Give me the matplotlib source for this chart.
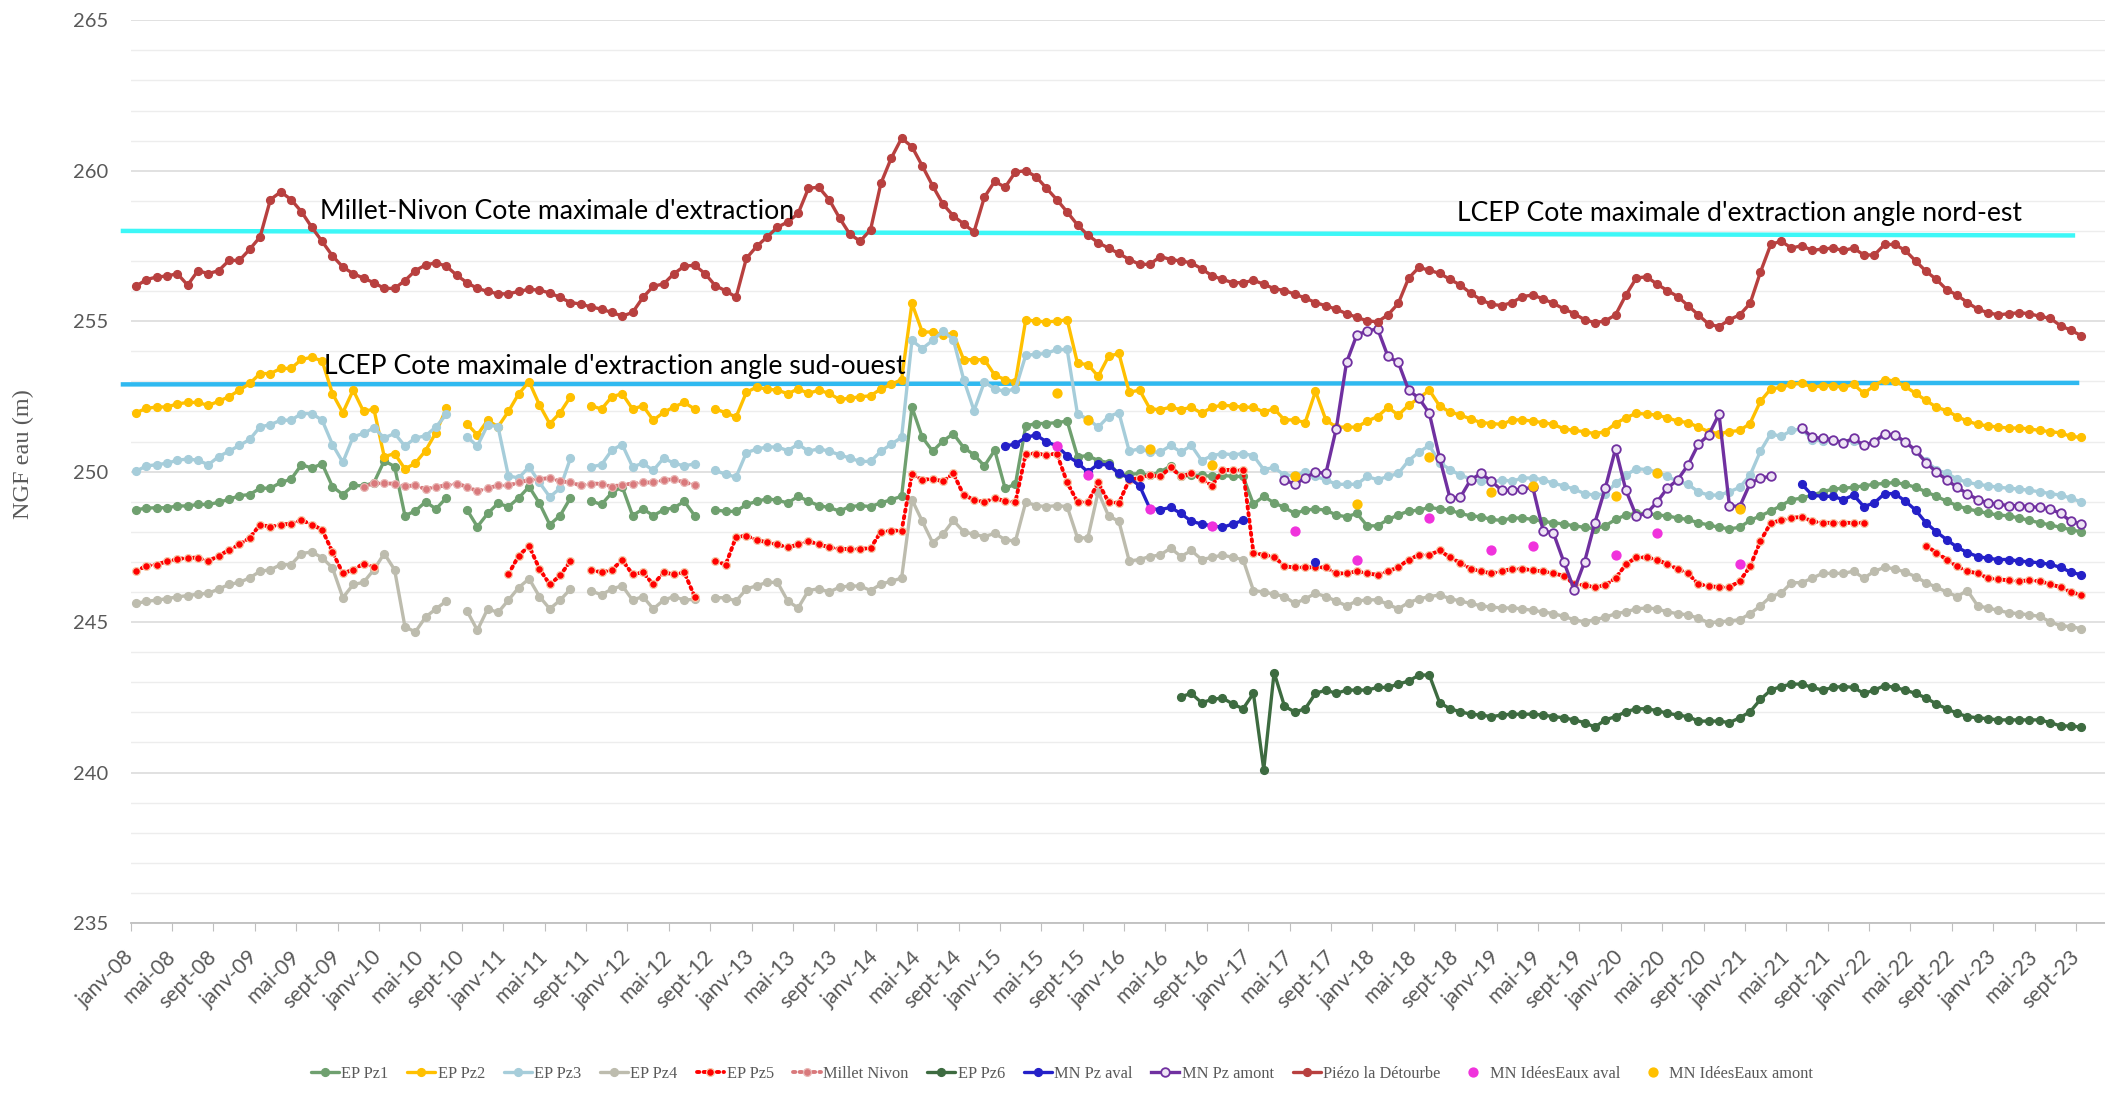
import numpy as np
import matplotlib
matplotlib.use("Agg")
import matplotlib.pyplot as plt
from matplotlib.lines import Line2D

# ---------------------------------------------------------------- data
START_YEAR = 2008
N_MONTHS = 189  # janv-08 .. sept-23

tick_labels = [
    "janv-08", "mai-08", "sept-08", "janv-09", "mai-09", "sept-09",
    "janv-10", "mai-10", "sept-10", "janv-11", "mai-11", "sept-11",
    "janv-12", "mai-12", "sept-12", "janv-13", "mai-13", "sept-13",
    "janv-14", "mai-14", "sept-14", "janv-15", "mai-15", "sept-15",
    "janv-16", "mai-16", "sept-16", "janv-17", "mai-17", "sept-17",
    "janv-18", "mai-18", "sept-18", "janv-19", "mai-19", "sept-19",
    "janv-20", "mai-20", "sept-20", "janv-21", "mai-21", "sept-21",
    "janv-22", "mai-22", "sept-22", "janv-23", "mai-23", "sept-23",
]

# full monthly series, one row per year (None = no measure)
piezo_detourbe = [
    [256.16, 256.38, 256.47, 256.5, 256.58, 256.2, 256.68, 256.58, 256.68, 257.02, 257.02, 257.39],
    [257.8, 259.04, 259.3, 259.04, 258.64, 258.12, 257.65, 257.17, 256.8, 256.58, 256.43, 256.28],
    [256.09, 256.09, 256.35, 256.68, 256.87, 256.94, 256.83, 256.53, 256.28, 256.09, 255.99, 255.91],
    [255.91, 255.99, 256.06, 256.03, 255.94, 255.79, 255.62, 255.57, 255.47, 255.4, 255.29, 255.17],
    [255.29, 255.79, 256.16, 256.24, 256.58, 256.83, 256.86, 256.58, 256.18, 256.01, 255.8, 257.09],
    [257.49, 257.8, 258.12, 258.3, 258.58, 259.42, 259.45, 259.04, 258.43, 257.89, 257.66, 258.04],
    [259.58, 260.42, 261.08, 260.8, 260.16, 259.5, 258.89, 258.5, 258.23, 257.97, 259.12, 259.65],
    [259.45, 259.96, 260.0, 259.8, 259.42, 259.04, 258.63, 258.2, 257.86, 257.61, 257.43, 257.25],
    [257.05, 256.89, 256.89, 257.15, 257.05, 257.0, 256.94, 256.74, 256.51, 256.39, 256.28, 256.28],
    [256.36, 256.23, 256.08, 256.02, 255.9, 255.77, 255.62, 255.51, 255.4, 255.25, 255.13, 255.01],
    [254.98, 255.21, 255.59, 256.43, 256.79, 256.69, 256.59, 256.39, 256.2, 255.93, 255.71, 255.56],
    [255.52, 255.62, 255.82, 255.87, 255.74, 255.59, 255.41, 255.25, 255.05, 254.95, 255.01, 255.21],
    [255.87, 256.43, 256.48, 256.23, 256.02, 255.82, 255.52, 255.21, 254.9, 254.82, 255.05, 255.21],
    [255.59, 256.63, 257.55, 257.66, 257.43, 257.51, 257.35, 257.4, 257.43, 257.35, 257.43, 257.2],
    [257.2, 257.55, 257.55, 257.35, 257.0, 256.66, 256.39, 256.05, 255.87, 255.62, 255.4, 255.28],
    [255.21, 255.25, 255.28, 255.25, 255.16, 255.1, 254.85, 254.7, 254.52],
]

ep_pz2 = [
    [251.96, 252.1, 252.15, 252.15, 252.25, 252.3, 252.3, 252.2, 252.34, 252.49, 252.71, 252.93],
    [253.26, 253.26, 253.43, 253.43, 253.73, 253.8, 253.68, 252.59, 251.96, 252.71, 252.0, 252.08],
    [250.5, 250.6, 250.09, 250.28, 250.7, 251.3, 252.1, None, 251.59, 251.22, 251.71, 251.49],
    [252.0, 252.59, 252.99, 252.22, 251.59, 251.96, 252.49, None, 252.19, 252.08, 252.49, 252.59],
    [252.08, 252.19, 251.71, 251.97, 252.15, 252.3, 252.08, None, 252.08, 251.96, 251.81, 252.64],
    [252.81, 252.74, 252.71, 252.59, 252.75, 252.6, 252.71, 252.6, 252.4, 252.44, 252.49, 252.52],
    [252.75, 252.9, 253.06, 255.59, 254.64, 254.64, 254.55, 254.59, 253.72, 253.72, 253.72, 253.21],
    [253.06, 252.98, 255.05, 255.0, 254.98, 255.0, 255.05, 253.6, 253.56, 253.17, 253.83, 253.93],
    [252.64, 252.71, 252.09, 252.06, 252.14, 252.06, 252.14, 251.94, 252.14, 252.21, 252.18, 252.14],
    [252.14, 251.98, 252.09, 251.72, 251.72, 251.63, 252.67, 251.72, 251.48, 251.48, 251.48, 251.68],
    [251.83, 252.14, 251.88, 252.21, 252.44, 252.71, 252.18, 251.98, 251.88, 251.75, 251.63, 251.6],
    [251.57, 251.72, 251.72, 251.68, 251.63, 251.57, 251.42, 251.37, 251.33, 251.26, 251.33, 251.6],
    [251.79, 251.94, 251.91, 251.88, 251.79, 251.68, 251.63, 251.48, 251.33, 251.26, 251.33, 251.37],
    [251.6, 252.34, 252.75, 252.8, 252.9, 252.95, 252.8, 252.86, 252.86, 252.8, 252.9, 252.6],
    [252.86, 253.06, 253.01, 252.83, 252.6, 252.37, 252.14, 252.03, 251.83, 251.68, 251.57, 251.52],
    [251.48, 251.45, 251.45, 251.42, 251.37, 251.33, 251.29, 251.17, 251.14],
]

ep_pz3 = [
    [250.01, 250.19, 250.23, 250.28, 250.38, 250.42, 250.38, 250.23, 250.5, 250.68, 250.87, 251.07],
    [251.49, 251.56, 251.71, 251.71, 251.93, 251.93, 251.71, 250.9, 250.31, 251.16, 251.27, 251.46],
    [251.12, 251.27, 250.85, 251.12, 251.19, 251.49, 251.9, None, 251.16, 250.85, 251.56, 251.49],
    [249.86, 249.79, 250.16, 249.64, 249.16, 249.45, 250.45, None, 250.16, 250.23, 250.72, 250.9],
    [250.16, 250.28, 250.04, 250.45, 250.28, 250.19, 250.26, None, 250.04, 249.91, 249.82, 250.63],
    [250.75, 250.82, 250.82, 250.7, 250.91, 250.68, 250.76, 250.68, 250.56, 250.45, 250.34, 250.34],
    [250.68, 250.91, 251.14, 254.36, 254.09, 254.36, 254.67, 254.39, 253.06, 252.03, 252.98, 252.75],
    [252.67, 252.75, 253.87, 253.9, 253.93, 254.06, 254.06, 251.91, 251.75, 251.48, 251.83, 251.96],
    [250.68, 250.76, 250.65, 250.65, 250.87, 250.65, 250.87, 250.37, 250.53, 250.6, 250.56, 250.6],
    [250.53, 250.07, 250.14, 249.88, 249.88, 249.99, 249.84, 249.73, 249.58, 249.58, 249.58, 249.84],
    [249.73, 249.84, 249.94, 250.37, 250.65, 250.87, 250.3, 250.07, 249.88, 249.76, 249.68, 249.64],
    [249.73, 249.68, 249.79, 249.79, 249.73, 249.61, 249.53, 249.42, 249.27, 249.22, 249.27, 249.61],
    [249.88, 250.1, 250.07, 249.99, 249.84, 249.68, 249.58, 249.33, 249.22, 249.22, 249.33, 249.48],
    [249.88, 250.68, 251.26, 251.17, 251.37, 251.42, 251.06, 251.02, 251.02, 250.99, 251.02, 250.87],
    [250.99, 251.22, 251.17, 250.99, 250.68, 250.34, 250.07, 249.94, 249.76, 249.64, 249.58, 249.53],
    [249.48, 249.45, 249.42, 249.38, 249.33, 249.27, 249.22, 249.12, 248.99],
]

ep_pz1 = [
    [248.73, 248.79, 248.8, 248.8, 248.86, 248.86, 248.91, 248.91, 248.98, 249.08, 249.2, 249.24],
    [249.45, 249.45, 249.64, 249.75, 250.23, 250.12, 250.26, 249.5, 249.24, 249.54, 249.53, 249.63],
    [250.36, 250.17, 248.54, 248.69, 249.0, 248.76, 249.13, None, 248.73, 248.17, 248.61, 248.95],
    [248.83, 249.13, 249.5, 248.95, 248.24, 248.54, 249.13, None, 249.02, 248.91, 249.3, 249.5],
    [248.54, 248.76, 248.54, 248.73, 248.8, 249.01, 248.54, None, 248.73, 248.68, 248.68, 248.91],
    [249.01, 249.1, 249.05, 248.96, 249.18, 249.02, 248.87, 248.81, 248.69, 248.84, 248.87, 248.84],
    [248.96, 249.07, 249.18, 252.14, 251.14, 250.68, 251.02, 251.26, 250.8, 250.56, 250.19, 250.71],
    [249.45, 249.58, 251.52, 251.6, 251.6, 251.63, 251.68, 250.5, 250.53, 250.37, 250.3, 249.91],
    [249.91, 249.94, 249.88, 249.99, 250.19, 249.84, 249.88, 249.88, 249.84, 249.88, 249.84, 249.84],
    [248.92, 249.18, 248.96, 248.81, 248.61, 248.72, 248.76, 248.72, 248.56, 248.5, 248.61, 248.2],
    [248.2, 248.41, 248.56, 248.69, 248.72, 248.81, 248.76, 248.72, 248.61, 248.53, 248.5, 248.41],
    [248.38, 248.46, 248.46, 248.41, 248.35, 248.3, 248.26, 248.2, 248.15, 248.1, 248.2, 248.41],
    [248.56, 248.61, 248.61, 248.56, 248.53, 248.46, 248.41, 248.3, 248.23, 248.15, 248.1, 248.15],
    [248.38, 248.53, 248.69, 248.87, 249.07, 249.12, 249.22, 249.33, 249.42, 249.45, 249.48, 249.53],
    [249.58, 249.61, 249.64, 249.58, 249.48, 249.33, 249.18, 249.02, 248.87, 248.76, 248.69, 248.61],
    [248.56, 248.53, 248.46, 248.38, 248.3, 248.23, 248.15, 248.07, 248.0],
]

ep_pz4 = [
    [245.62, 245.69, 245.73, 245.78, 245.84, 245.88, 245.93, 245.96, 246.1, 246.25, 246.32, 246.47],
    [246.69, 246.74, 246.91, 246.91, 247.28, 247.33, 247.14, 246.8, 245.81, 246.25, 246.32, 246.74],
    [247.28, 246.74, 244.85, 244.67, 245.17, 245.44, 245.7, None, 245.37, 244.73, 245.44, 245.32],
    [245.73, 246.15, 246.44, 245.85, 245.44, 245.73, 246.1, None, 246.03, 245.91, 246.1, 246.21],
    [245.73, 245.85, 245.44, 245.73, 245.85, 245.73, 245.76, None, 245.81, 245.81, 245.7, 246.1],
    [246.21, 246.32, 246.32, 245.7, 245.47, 246.05, 246.11, 246.0, 246.16, 246.2, 246.2, 246.05],
    [246.26, 246.36, 246.46, 249.07, 248.35, 247.64, 247.92, 248.38, 248.0, 247.92, 247.84, 247.95],
    [247.74, 247.69, 248.99, 248.87, 248.84, 248.87, 248.84, 247.8, 247.8, 249.33, 248.53, 248.35],
    [247.03, 247.08, 247.18, 247.23, 247.46, 247.18, 247.38, 247.08, 247.15, 247.23, 247.15, 247.08],
    [246.05, 246.0, 245.93, 245.85, 245.62, 245.77, 245.96, 245.85, 245.7, 245.54, 245.7, 245.74],
    [245.74, 245.59, 245.44, 245.65, 245.77, 245.85, 245.9, 245.78, 245.7, 245.62, 245.54, 245.5],
    [245.47, 245.47, 245.44, 245.39, 245.34, 245.28, 245.19, 245.08, 245.01, 245.08, 245.16, 245.28],
    [245.34, 245.44, 245.47, 245.44, 245.34, 245.28, 245.24, 245.13, 244.98, 245.01, 245.04, 245.08],
    [245.28, 245.54, 245.85, 245.96, 246.31, 246.31, 246.46, 246.62, 246.62, 246.62, 246.69, 246.46],
    [246.69, 246.82, 246.77, 246.66, 246.51, 246.31, 246.16, 246.0, 245.85, 246.05, 245.54, 245.47],
    [245.39, 245.31, 245.28, 245.24, 245.19, 245.01, 244.88, 244.85, 244.78],
]

ep_pz5 = [
    [246.69, 246.87, 246.91, 247.02, 247.09, 247.14, 247.14, 247.02, 247.21, 247.39, 247.58, 247.8],
    [248.24, 248.17, 248.24, 248.27, 248.39, 248.24, 248.07, 247.33, 246.62, 246.74, 246.94, 246.84],
    [None] * 12,
    [246.59, 247.21, 247.53, 246.77, 246.25, 246.55, 247.03, None, 246.74, 246.65, 246.74, 247.06],
    [246.59, 246.65, 246.25, 246.65, 246.59, 246.65, 245.85, None, 247.03, 246.91, 247.83, 247.87],
    [247.73, 247.65, 247.58, 247.48, 247.58, 247.69, 247.58, 247.49, 247.43, 247.43, 247.43, 247.46],
    [248.0, 248.04, 248.04, 249.91, 249.73, 249.76, 249.68, 249.94, 249.22, 249.07, 248.99, 249.12],
    [249.02, 248.99, 250.6, 250.6, 250.56, 250.6, 249.64, 248.99, 248.99, 249.64, 248.99, 248.96],
    [249.73, 249.79, 249.88, 249.84, 250.14, 249.84, 249.94, 249.76, 249.53, 250.04, 250.07, 250.04],
    [247.31, 247.23, 247.18, 246.85, 246.82, 246.82, 246.82, 246.82, 246.62, 246.62, 246.69, 246.62],
    [246.57, 246.69, 246.82, 247.08, 247.23, 247.23, 247.38, 247.15, 246.97, 246.77, 246.69, 246.62],
    [246.69, 246.77, 246.77, 246.72, 246.69, 246.62, 246.54, 246.26, 246.23, 246.16, 246.23, 246.46],
    [246.92, 247.15, 247.15, 247.08, 246.92, 246.77, 246.62, 246.26, 246.2, 246.16, 246.16, 246.36],
    [246.85, 247.69, 248.3, 248.38, 248.46, 248.5, 248.35, 248.3, 248.3, 248.3, 248.3, 248.3],
    [None, None, None, None, None, 247.54, 247.31, 247.08, 246.85, 246.69, 246.62, 246.46],
    [246.42, 246.39, 246.36, 246.39, 246.36, 246.26, 246.16, 246.0, 245.9],
]

# partial series: ((year, month of first value), values)
millet_nivon = [((2009, 11), [249.5, 249.61, 249.61, 249.6, 249.52, 249.54, 249.42, 249.5, 249.54,
                              249.6, 249.5, 249.35, 249.45, 249.54, 249.54, 249.64, 249.72, 249.75,
                              249.79, 249.68, 249.64, 249.54, 249.6, 249.6, 249.5, 249.57, 249.6,
                              249.64, 249.64, 249.72, 249.75, 249.64, 249.57])]

ep_pz6 = [((2016, 6), [242.52, 242.63, 242.32, 242.43, 242.48, 242.28, 242.12,
                       242.63, 240.1, 243.32, 242.21, 242.01, 242.12, 242.63, 242.74, 242.63, 242.74,
                       242.74, 242.74, 242.83, 242.83, 242.94, 243.04, 243.24, 243.24, 242.32, 242.12,
                       242.02, 241.94, 241.91, 241.86, 241.91, 241.94, 241.94, 241.94, 241.91, 241.86,
                       241.82, 241.75, 241.66, 241.51, 241.75, 241.86, 242.02, 242.12, 242.12, 242.06,
                       241.97, 241.91, 241.86, 241.71, 241.71, 241.71, 241.66, 241.82, 242.02, 242.43,
                       242.74, 242.86, 242.94, 242.94, 242.83, 242.74, 242.83, 242.86, 242.83, 242.63,
                       242.74, 242.89, 242.83, 242.74, 242.63, 242.48, 242.28, 242.12, 241.97, 241.86,
                       241.82, 241.79, 241.75, 241.75, 241.75, 241.75, 241.75, 241.66, 241.55, 241.55,
                       241.51])]

mn_pz_aval = [((2015, 1), [250.86, 250.91, 251.14, 251.22, 250.99, 250.86, 250.53, 250.3, 249.99,
                           250.25, 250.22, 249.94, 249.79, 249.53, 248.77, 248.74, 248.81, 248.61,
                           248.35, 248.26, 248.2, 248.15, 248.26, 248.38]),
              ((2017, 7), [247.0]),
              ((2021, 6), [249.58, 249.22, 249.18, 249.18, 249.07, 249.22, 248.84, 248.96, 249.27,
                           249.27, 249.02, 248.72, 248.3, 248.0, 247.74, 247.49, 247.31, 247.18,
                           247.12, 247.08, 247.08, 247.03, 247.0, 246.97, 246.92, 246.82, 246.66,
                           246.57])]

mn_pz_amont = [((2017, 4), [249.73, 249.58, 249.79, 249.99, 249.94, 251.42, 253.63, 254.55, 254.67,
                            254.75, 253.83, 253.63, 252.71, 252.44, 251.94, 250.45, 249.12, 249.15,
                            249.73, 249.94, 249.68, 249.38, 249.38, 249.42, 249.48, 248.04, 247.95,
                            247.0, 246.08, 247.0, 248.3, 249.45, 250.76, 249.38, 248.53, 248.61,
                            248.99, 249.45, 249.73, 250.22, 250.91, 251.22, 251.91, 248.87, 248.84,
                            249.61, 249.79, 249.84]),
               ((2021, 6), [251.45, 251.14, 251.11, 251.06, 250.96, 251.11, 250.87, 250.99, 251.26,
                            251.22, 250.99, 250.71, 250.3, 249.99, 249.73, 249.48, 249.27, 249.07,
                            248.96, 248.92, 248.87, 248.87, 248.84, 248.81, 248.76, 248.61, 248.35,
                            248.26])]

# isolated campaign measurements (year, month)
idees_eaux_dates = [(2015, 6), (2015, 9), (2016, 3), (2016, 9), (2017, 5), (2017, 11),
                    (2018, 6), (2018, 12), (2019, 4), (2019, 12), (2020, 4), (2020, 12)]
mn_ideeseaux_aval = [250.86, 249.88, 248.77, 248.2, 248.04, 247.08,
                     248.46, 247.38, 247.54, 247.23, 247.95, 246.92]
mn_ideeseaux_amont = [252.6, 251.72, 250.76, 250.22, 249.84, 248.92,
                      250.5, 249.33, 249.53, 249.18, 249.94, 248.76]

# maximal extraction levels (value at start, value at end of the drawn segment)
cote_millet_nivon = [258.0, 257.85]
cote_lcep_sud_ouest = [252.9, 252.95]

# ---------------------------------------------------------------- helpers
def month_index(year, month):
    return (year - START_YEAR) * 12 + (month - 1)


def from_rows(rows):
    flat = [np.nan if v is None else v for row in rows for v in row]
    arr = np.full(N_MONTHS, np.nan)
    n = min(len(flat), N_MONTHS)
    arr[:n] = flat[:n]
    return arr


def from_segments(segments):
    arr = np.full(N_MONTHS, np.nan)
    for (y, m), vals in segments:
        i = month_index(y, m)
        arr[i:i + len(vals)] = vals[:N_MONTHS - i]
    return arr


x = np.arange(N_MONTHS)
dots_x = np.array([month_index(y, m) for y, m in idees_eaux_dates])

# ---------------------------------------------------------------- figure
plt.rcParams['font.family'] = ['Lato', 'DejaVu Sans']
TXT = '#595959'

fig = plt.figure(figsize=(21.05, 10.97), dpi=100)
ax = fig.add_axes([0.0621, 0.1586, 0.9379, 0.8229])
ax.set_xlim(-0.5, 190.3)
ax.set_ylim(235, 265)

ax.set_yticks(np.arange(235, 266, 5))
ax.set_yticks(np.arange(235, 266, 1), minor=True)
ax.grid(axis='y', which='major', color='#D9D9D9', lw=1.1, zorder=0)
ax.grid(axis='y', which='minor', color='#EDEDED', lw=1.0, zorder=0)
ax.set_axisbelow(True)
for s in ('top', 'right', 'left'):
    ax.spines[s].set_visible(False)
ax.spines['bottom'].set_color('#BFBFBF')
ax.spines['bottom'].set_linewidth(1.3)

ax.tick_params(axis='y', which='both', length=0, pad=16, labelsize=14.5, labelcolor=TXT)
ax.set_xticks(np.arange(0, N_MONTHS, 4) - 0.5)
ax.set_xticks([], minor=True)
ax.set_xticklabels(tick_labels, rotation=45, ha='right', va='center',
                   rotation_mode='anchor', fontsize=15.2, color=TXT)
ax.tick_params(axis='x', which='major', length=6, color='#BFBFBF', pad=16)

ax.set_ylabel('NGF eau (m)', family=['Liberation Serif', 'DejaVu Serif'],
              fontsize=17.5, color=TXT)
ax.yaxis.set_label_coords(-0.049, 0.52)

# reference lines (maximal extraction levels)
ax.plot([-1.25, 187.2], cote_millet_nivon, color='#3DF7F7', lw=3.2, clip_on=False, zorder=1)
ax.plot([-1.25, 187.6], cote_lcep_sud_ouest, color='#2FB9F0', lw=3.2, clip_on=False, zorder=1)

ANN = dict(fontsize=19.2, color='black', va='baseline', ha='left', zorder=6)
ax.text(17.8, 258.39, "Millet-Nivon Cote maximale d'extraction", **ANN)
ax.text(18.2, 253.26, "LCEP Cote maximale d'extraction angle sud-ouest", **ANN)
ax.text(127.7, 258.32, "LCEP Cote maximale d'extraction angle nord-est", **ANN)

LW = 2.4
MS = 5.6
solid = dict(lw=LW, marker='o', ms=MS, solid_joinstyle='round', solid_capstyle='round')
dotted = dict(lw=2.8, ls=(0, (0.6, 1.1)), dash_capstyle='round', marker='o', ms=MS)

series = [
    ("EP Pz1", from_rows(ep_pz1), dict(color='#6FA06F', **solid)),
    ("EP Pz2", from_rows(ep_pz2), dict(color='#FFC000', **solid)),
    ("EP Pz3", from_rows(ep_pz3), dict(color='#A6CDDA', **solid)),
    ("EP Pz4", from_rows(ep_pz4), dict(color='#BDBCAE', **solid)),
    ("EP Pz5", from_rows(ep_pz5), dict(color='#FF0000', mec='#F5C9A8', mew=0.9, **dotted)),
    ("Millet Nivon", from_segments(millet_nivon), dict(color='#D9797C', mec='#E8B7B5', mew=0.9, **dotted)),
    ("EP Pz6", from_segments(ep_pz6), dict(color='#3D6B40', **solid)),
    ("MN Pz aval", from_segments(mn_pz_aval), dict(color='#2420C8', **solid)),
    ("MN Pz amont", from_segments(mn_pz_amont), dict(color='#7030A0', mfc='#EEE4F5', mec='#7030A0',
                                                     mew=1.3, lw=LW, marker='o', ms=6.2)),
    ("Piézo la Détourbe", from_rows(piezo_detourbe), dict(color='#B8403F', **solid)),
]

handles = []
for k, (name, vals, style) in enumerate(series):
    ax.plot(x, vals, zorder=3 + k * 0.01, **style)
    handles.append(Line2D([], [], label=name, **style))

ax.plot(dots_x, mn_ideeseaux_aval, ls='none', marker='o', ms=6.4, color='#F032DC', zorder=4)
ax.plot(dots_x, mn_ideeseaux_amont, ls='none', marker='o', ms=6.4, color='#FFC000', zorder=4)
handles.append(Line2D([], [], ls='none', marker='o', ms=6.4, color='#F032DC', label='MN IdéesEaux aval'))
handles.append(Line2D([], [], ls='none', marker='o', ms=6.4, color='#FFC000', label='MN IdéesEaux amont'))

leg = fig.legend(handles=handles, loc='center', bbox_to_anchor=(0.5045, 0.021), ncol=12,
                 frameon=False, handlelength=1.7, handletextpad=0.15, columnspacing=1.15,
                 prop={'family': ['Liberation Serif', 'DejaVu Serif'], 'size': 11.8})
for t in leg.get_texts():
    t.set_color(TXT)

fig.savefig('out.png', dpi=100)
